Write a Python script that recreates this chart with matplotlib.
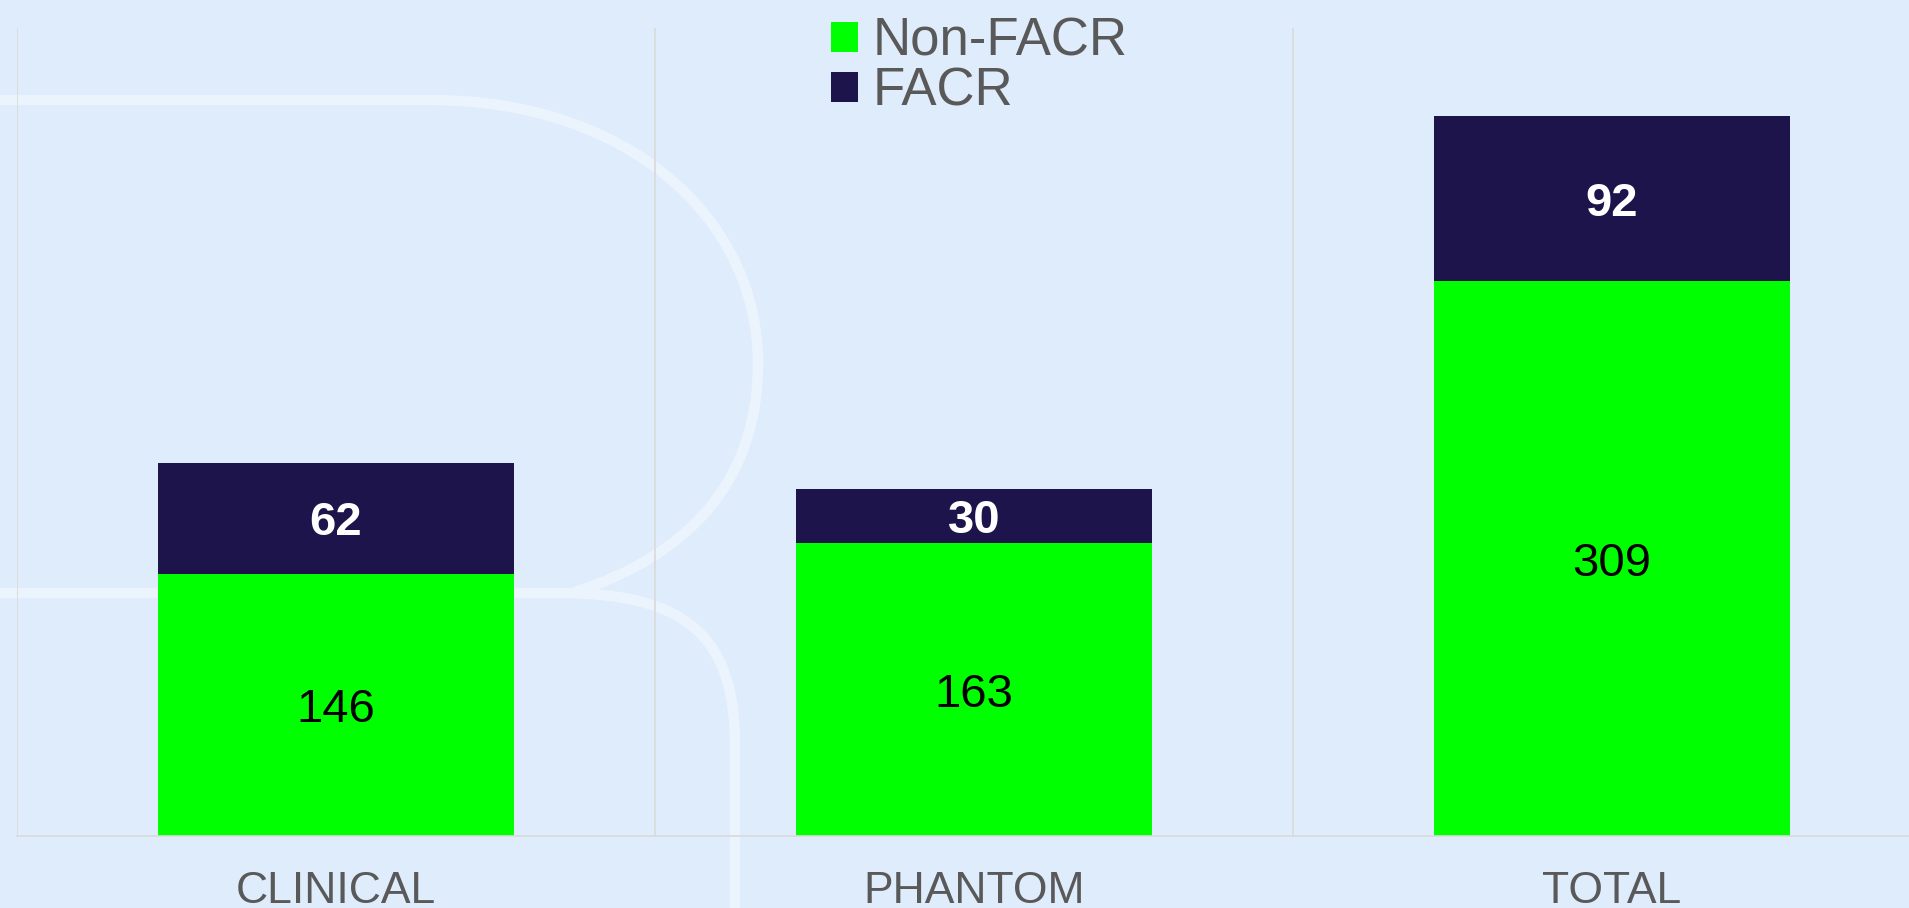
import matplotlib
matplotlib.use("Agg")
import matplotlib.pyplot as plt
import numpy as np
from matplotlib.path import Path
from matplotlib.patches import PathPatch, Patch
from matplotlib.transforms import Affine2D

# ---- data ----
categories = ["CLINICAL", "PHANTOM", "TOTAL"]
non_facr = [146, 163, 309]
facr = [62, 30, 92]
series_names = ["Non-FACR", "FACR"]

# ---- style ----
W, H = 1909, 908
BG = "#DFECFC"
GREEN = "#00FF00"
NAVY = "#1C144A"
GRID = "#D9D9D9"
TXT = "#595959"

plt.rcParams['font.family'] = ['Liberation Sans', 'DejaVu Sans']

fig = plt.figure(figsize=(W / 100, H / 100), dpi=100, facecolor=BG)

# ---- decorative watermark (image pixel coords -> figure) ----
to_fig = Affine2D().scale(1 / W, -1 / H).translate(0, 1) + fig.transFigure
deco_verts = [
    (-20, 100), (430, 100),
    (630, 100), (758, 220), (758, 363),
    (758, 480), (690, 555), (575, 592),
    (-20, 593), (560, 593),
    (690, 593), (735, 640), (735, 745),
    (735, 930),
]
deco_codes = [
    Path.MOVETO, Path.LINETO,
    Path.CURVE4, Path.CURVE4, Path.CURVE4,
    Path.CURVE4, Path.CURVE4, Path.CURVE4,
    Path.MOVETO, Path.LINETO,
    Path.CURVE4, Path.CURVE4, Path.CURVE4,
    Path.LINETO,
]
deco = PathPatch(Path(deco_verts, deco_codes), facecolor="none",
                 edgecolor="white", alpha=0.4, lw=7.5, transform=to_fig,
                 zorder=-1, capstyle="butt")
fig.add_artist(deco)

# ---- axes ----
ax = fig.add_axes([17 / W, 72 / H, 3 * 638 / W, 808 / H])
ax.set_facecolor("none")
x = np.arange(len(categories)) + 0.5
ax.set_xlim(0, len(categories))
ax.set_ylim(0, 450)

bw = 0.558
b1 = ax.bar(x, non_facr, width=bw, color=GREEN, zorder=2, label=series_names[0])
b2 = ax.bar(x, facr, width=bw, bottom=non_facr, color=NAVY, zorder=2, label=series_names[1])
t1 = ax.bar_label(b1, label_type="center", fontsize=34, color="black")
t2 = ax.bar_label(b2, label_type="center", fontsize=34, color="white", fontweight="bold")
for t in list(t1) + list(t2):
    t.set_verticalalignment("center_baseline")

ax.set_xticks(x)
ax.set_xticklabels(categories)
ax.set_xticks(np.arange(len(categories) + 1), minor=True)
ax.grid(axis="x", which="minor", color=GRID, lw=1.2, zorder=0)
ax.grid(axis="x", which="major", visible=False)
ax.set_yticks([])
ax.tick_params(axis="x", which="both", length=0)
ax.tick_params(axis="x", which="major", pad=25, labelsize=32, labelcolor=TXT)
for s in ["top", "right", "left"]:
    ax.spines[s].set_visible(False)
ax.spines["bottom"].set_color(GRID)
ax.spines["bottom"].set_linewidth(1.2)

# ---- legend ----
handles = [Patch(facecolor=GREEN), Patch(facecolor=NAVY)]
fig.legend(handles, series_names, loc="upper left",
           bbox_to_anchor=(831 / W, 1 - 17 / H), frameon=False, fontsize=38,
           handlelength=0.51, handleheight=0.51, handletextpad=0.28,
           labelspacing=0.0, borderpad=0, borderaxespad=0, labelcolor=TXT)

fig.savefig("out.png", dpi=100, facecolor=BG)
